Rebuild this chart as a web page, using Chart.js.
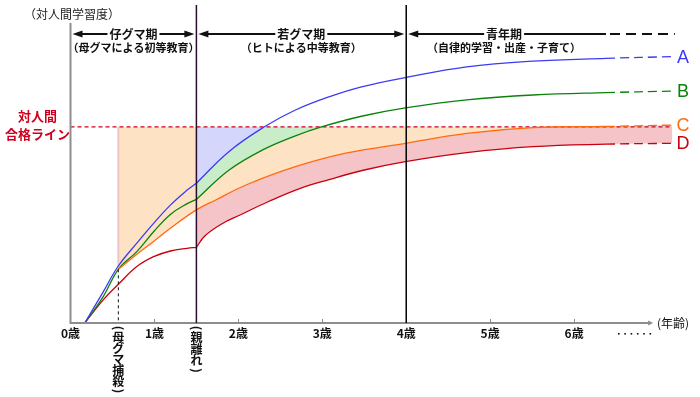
<!DOCTYPE html>
<html lang="ja">
<head>
<meta charset="utf-8">
<title>対人間学習度</title>
<script src="https://cdn.jsdelivr.net/npm/chart.js@4.4.1/dist/chart.umd.min.js"></script>
<style>
  html, body { margin: 0; padding: 0; background: #fff; }
  canvas { display: block; }
</style>
</head>
<body>
<canvas id="grafico" width="700" height="397"></canvas>
<script>
// 年齢の目盛り
const AGE_TICKS = ['0歳', '1歳', '2歳', '3歳', '4歳', '5歳', '6歳'];

// 節目の年齢
const AGE_KILL = 0.57;   // 母グマ捕殺
const AGE_LEAVE = 1.5;   // 親離れ
const AGE_ADULT = 4.0;   // 青年期のはじまり
const AGE_DASH = 6.38;   // ここから先は破線
const AGE_AXIS_END = 6.93;
const PASS_LINE = 65.4;  // 対人間合格ライン

// A（青）
const A1_X = [0.17, 0.39, 0.57, 0.79, 0.99, 1.19, 1.39, 1.5];
const A1_Y = [0, 10.4, 19, 26.6, 33.2, 39.3, 44.3, 46.6];
const A2_X = [1.5, 1.89, 2.31, 2.68, 3.08, 3.48, 3.99, 4.72, 5.51, 6.38, 7.17];
const A2_Y = [46.6, 57.2, 65.4, 71, 75.4, 78.8, 81.8, 85.4, 87.3, 88.2, 88.8];

// B（緑）
const B1_X = [0.17, 0.39, 0.57, 0.79, 0.99, 1.19, 1.39, 1.5];
const B1_Y = [0, 8.8, 17.9, 23.8, 30.4, 36.2, 39.8, 41.2];
const B2_X = [1.5, 1.89, 2.29, 2.68, 2.98, 3.48, 3.99, 4.72, 5.51, 6.38, 7.17];
const B2_Y = [41.2, 51, 57.7, 62.4, 65.3, 69, 71.7, 74.4, 76, 76.8, 77.3];

// C（橙）: 母グマ捕殺の時点から
const C_X = [0.57, 0.79, 0.99, 1.19, 1.5, 1.73, 2.09, 2.68, 3.28, 3.99, 4.72, 5.51, 6.38, 7.17];
const C_Y = [17.9, 22.9, 27.2, 31.6, 37.7, 41, 46, 52.1, 56.6, 59.9, 63.2, 65.1, 65.5, 66];

// D（赤）
const D1_X = [0.17, 0.39, 0.57, 0.79, 0.99, 1.19, 1.39, 1.5];
const D1_Y = [0, 7.7, 12.9, 18.8, 22.1, 24, 24.9, 25.2];
const D2_X = [1.5, 1.6, 1.8, 2.02, 2.36, 2.73, 3.08, 3.5, 3.99, 4.72, 5.51, 6.38, 7.17];
const D2_Y = [25.2, 29, 33, 36, 40.5, 44.8, 47.8, 51, 53.8, 56.8, 58.8, 59.6, 59.9];

const SERIES_NAMES = ['A', 'B', 'C', 'D'];
const SERIES_COLORS = ['#3b3bf5', '#0b820b', '#ff6a10', '#c8000f'];
const FILL_COLORS = ['#d5d6fb', '#c9ecc9', '#fde3c4', '#f5c4c8'];
const PASS_COLOR = '#d0001c';

// 期間の見出し
const PERIOD_NAMES = ['仔グマ期', '若グマ期', '青年期'];
const PERIOD_NOTES = ['（母グマによる初等教育）', '（ヒトによる中等教育）', '（自律的学習・出産・子育て）'];
const PERIOD_FROM = [0, AGE_LEAVE, AGE_ADULT];
const PERIOD_TO = [AGE_LEAVE, AGE_ADULT, AGE_DASH];

const JP = '"Noto Sans CJK JP", "Noto Sans", sans-serif';

function pts(xs, ys) {
    return xs.map((x, i) => ({ x: x, y: ys[i] }));
}

const dashTail = ctx => ctx.p0.parsed.x >= AGE_DASH - 0.001 ? [9, 5] : undefined;

function curve(xs, ys, color, fill, bg) {
    return {
        data: pts(xs, ys),
        borderColor: color,
        borderWidth: 1.3,
        backgroundColor: bg || 'rgba(0,0,0,0)',
        fill: fill || false,
        pointRadius: 0,
        tension: 0.4,
        segment: { borderDash: dashTail }
    };
}

function arrowHead(ctx, x, y, dir) {
    ctx.beginPath();
    ctx.moveTo(x, y);
    ctx.lineTo(x - dir * 10, y - 3.5);
    ctx.lineTo(x - dir * 10, y + 3.5);
    ctx.closePath();
    ctx.fill();
}

function vText(ctx, text, cx, y0, step) {
    let y = y0;
    for (const ch of text) {
        if (ch === '（' || ch === '）') {
            ctx.save();
            ctx.translate(cx, y + 4);
            ctx.rotate(Math.PI / 2);
            ctx.fillText(ch === '（' ? '(' : ')', 0, 0);
            ctx.restore();
            y += 8;
        } else {
            ctx.fillText(ch, cx, y + step / 2);
            y += step;
        }
    }
}

const deco = {
    id: 'deco',
    beforeDatasetsDraw(chart) {
        const { ctx, scales: { x, y } } = chart;
        // 母グマ捕殺の境目（塗りの縁）
        ctx.save();
        ctx.strokeStyle = '#efc3c6';
        ctx.lineWidth = 2;
        ctx.beginPath();
        ctx.moveTo(x.getPixelForValue(AGE_KILL), y.getPixelForValue(PASS_LINE));
        ctx.lineTo(x.getPixelForValue(AGE_KILL), y.getPixelForValue(C_Y[0]));
        ctx.stroke();
        ctx.restore();
    },
    afterDatasetsDraw(chart) {
        const { ctx, chartArea, scales: { x, y } } = chart;
        const x0 = x.getPixelForValue(0);
        const yb = y.getPixelForValue(0);
        ctx.save();

        // 軸
        ctx.strokeStyle = '#8d8d8d';
        ctx.fillStyle = '#8d8d8d';
        ctx.lineWidth = 2;
        ctx.beginPath();
        ctx.moveTo(x0, chartArea.top);
        ctx.lineTo(x0, yb);
        const xe = x.getPixelForValue(AGE_AXIS_END);
        ctx.lineTo(xe - 3, yb);
        ctx.stroke();
        ctx.beginPath();
        ctx.moveTo(xe + 1, yb);
        ctx.lineTo(xe - 4, yb - 2.5);
        ctx.lineTo(xe - 4, yb + 2.5);
        ctx.closePath();
        ctx.fill();
        ctx.lineWidth = 1;
        for (let i = 1; i < AGE_TICKS.length; i++) {
            const tx = Math.round(x.getPixelForValue(i)) + 0.5;
            ctx.beginPath();
            ctx.moveTo(tx, yb - 4);
            ctx.lineTo(tx, yb);
            ctx.stroke();
        }

        // 母グマ捕殺の破線
        const xk = x.getPixelForValue(AGE_KILL);
        ctx.strokeStyle = '#111';
        ctx.setLineDash([3, 3]);
        ctx.beginPath();
        ctx.moveTo(xk, y.getPixelForValue(C_Y[0]));
        ctx.lineTo(xk, yb);
        ctx.stroke();
        ctx.setLineDash([]);

        // 親離れ・青年期の縦線
        ctx.lineWidth = 1.5;
        ctx.strokeStyle = '#2a0d2e';
        ctx.beginPath();
        ctx.moveTo(x.getPixelForValue(AGE_LEAVE), 5);
        ctx.lineTo(x.getPixelForValue(AGE_LEAVE), yb);
        ctx.stroke();
        ctx.strokeStyle = '#000';
        ctx.beginPath();
        ctx.moveTo(x.getPixelForValue(AGE_ADULT), 5);
        ctx.lineTo(x.getPixelForValue(AGE_ADULT), yb);
        ctx.stroke();

        // 期間の見出し
        const hy = 34;
        ctx.fillStyle = '#111';
        ctx.strokeStyle = '#111';
        ctx.lineWidth = 2;
        ctx.textAlign = 'center';
        ctx.textBaseline = 'middle';
        PERIOD_NAMES.forEach((name, i) => {
            const last = i === PERIOD_NAMES.length - 1;
            const x1 = x.getPixelForValue(PERIOD_FROM[i]) + 2;
            const x2 = x.getPixelForValue(PERIOD_TO[i]) - (last ? 0 : 2);
            const cx = last ? (x1 + x2) / 2 - 3 : (x1 + x2) / 2;
            ctx.font = 'bold 12px ' + JP;
            const w = ctx.measureText(name).width;
            ctx.fillText(name, cx, hy);
            ctx.beginPath();
            ctx.moveTo(x1 + 8, hy);
            ctx.lineTo(cx - w / 2 - 2, hy);
            ctx.moveTo(cx + w / 2 + 2, hy);
            ctx.lineTo(last ? x2 : x2 - 8, hy);
            ctx.stroke();
            arrowHead(ctx, x1, hy, -1);
            if (!last) {
                arrowHead(ctx, x2, hy, 1);
            } else {
                ctx.setLineDash([10, 6]);
                ctx.beginPath();
                ctx.moveTo(x2 + 4, hy);
                ctx.lineTo(x.getPixelForValue(7.2), hy);
                ctx.stroke();
                ctx.setLineDash([]);
            }
            ctx.font = 'bold 11px ' + JP;
            ctx.fillText(PERIOD_NOTES[i], cx, 48);
        });

        // 縦軸の見出し
        ctx.font = '12px ' + JP;
        ctx.fillStyle = '#222';
        ctx.fillText('（対人間学習度）', 72, 14);

        // 合格ライン
        ctx.fillStyle = PASS_COLOR;
        ctx.font = 'bold 13px ' + JP;
        ctx.fillText('対人間', x0 - 33, 116);
        ctx.fillText('合格ライン', x0 - 33, 134);

        // 系列名
        const lastY = [A2_Y, B2_Y, C_Y, D2_Y].map(a => a[a.length - 1]);
        ctx.font = '18px "Liberation Sans", Arial, sans-serif';
        SERIES_NAMES.forEach((n, i) => {
            ctx.fillStyle = SERIES_COLORS[i];
            ctx.fillText(n, 683, y.getPixelForValue(lastY[i]) + 1);
        });

        // 横軸の補足
        ctx.fillStyle = '#111';
        ctx.font = 'bold 12px ' + JP;
        vText(ctx, '（母グマ捕殺）', xk, 324, 11);
        vText(ctx, '（親離れ）', x.getPixelForValue(AGE_LEAVE), 324, 11.5);
        ctx.font = '12px ' + JP;
        ctx.fillText('(年齢)', 673, yb);
        for (let i = 0; i < 6; i++) {
            ctx.fillRect(618 + i * 6.3, 333, 1.6, 1.6);
        }
        ctx.restore();
    }
};

const datasets = [
    curve(A2_X, A2_Y, SERIES_COLORS[0], { target: 6, above: 'rgba(0,0,0,0)', below: FILL_COLORS[0] }, FILL_COLORS[0]),
    curve(B2_X, B2_Y, SERIES_COLORS[1], { target: 6, above: 'rgba(0,0,0,0)', below: FILL_COLORS[1] }, FILL_COLORS[1]),
    curve(C_X, C_Y, SERIES_COLORS[2], { target: 6, above: 'rgba(0,0,0,0)', below: FILL_COLORS[2] }, FILL_COLORS[2]),
    curve(D2_X, D2_Y, SERIES_COLORS[3], 2, FILL_COLORS[3]),
    curve(A1_X, A1_Y, SERIES_COLORS[0]),
    curve(B1_X, B1_Y, SERIES_COLORS[1]),
    {
        data: pts([0, 7.17], [PASS_LINE, PASS_LINE]),
        borderColor: PASS_COLOR,
        borderWidth: 1.3,
        borderDash: [4, 3],
        pointRadius: 0,
        fill: false,
        tension: 0
    },
    curve(D1_X, D1_Y, SERIES_COLORS[3])
];

new Chart(document.getElementById('grafico'), {
    type: 'line',
    data: { datasets: datasets },
    options: {
        responsive: false,
        animation: false,
        devicePixelRatio: 1,
        layout: { padding: { left: 70.5, right: 8.4, top: 23, bottom: 0 } },
        plugins: {
            legend: { display: false },
            tooltip: { enabled: false },
            filler: { propagate: false, drawTime: 'beforeDatasetsDraw' }
        },
        scales: {
            x: {
                type: 'linear',
                min: 0,
                max: 7.4,
                afterFit: s => { s.height = 74; },
                grid: { display: false, drawTicks: false },
                border: { display: false },
                ticks: {
                    stepSize: 1,
                    autoSkip: false,
                    maxRotation: 0,
                    padding: 3,
                    color: '#111',
                    font: { family: JP, size: 12, weight: 'bold' },
                    callback: v => AGE_TICKS[v] || ''
                }
            },
            y: { display: false, min: 0, max: 100 }
        }
    },
    plugins: [deco]
});
</script>
</body>
</html>
